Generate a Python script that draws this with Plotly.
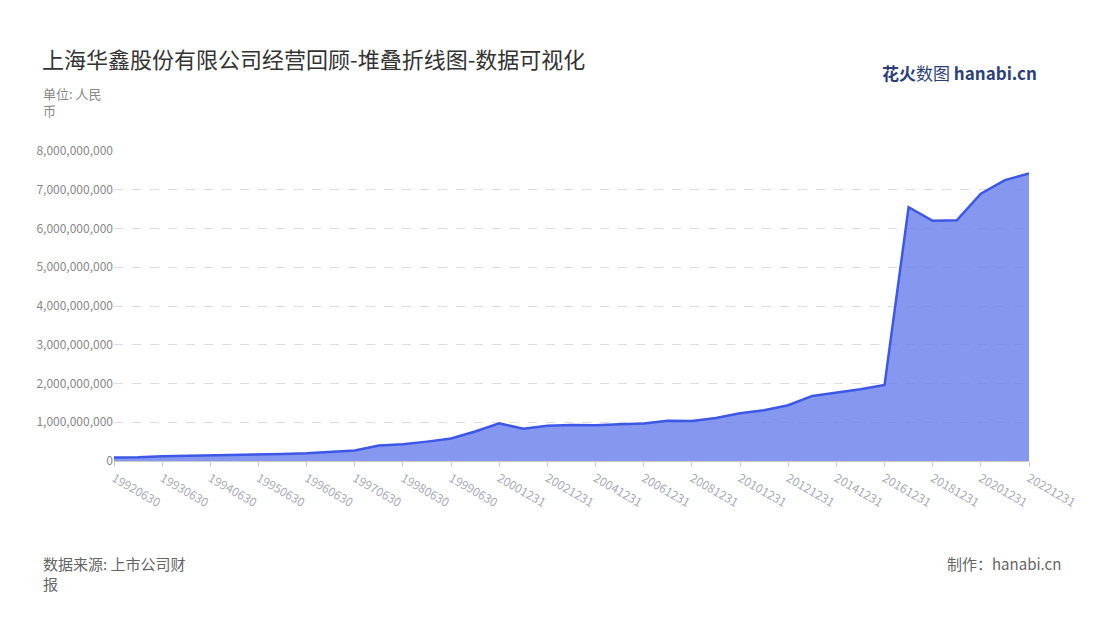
import plotly.graph_objects as go

# 报告期
periods = ["19920630", "19921231", "19930630", "19931231", "19940630", "19941231",
           "19950630", "19951231", "19960630", "19961231", "19970630", "19971231",
           "19980630", "19981231", "19990630", "19991231"] + \
          [str(y) + "1231" for y in range(2000, 2023)]

# 营业收入 (元)
revenue = [90e6, 95e6, 120e6, 130e6, 140e6, 150e6, 165e6, 180e6, 200e6, 240e6,
           270e6, 400e6, 430e6, 500e6, 580e6, 760e6, 970e6, 830e6, 910e6, 930e6,
           920e6, 950e6, 970e6, 1040e6, 1030e6, 1110e6, 1230e6, 1310e6, 1440e6,
           1680e6, 1760e6, 1850e6, 1960e6, 6550e6, 6200e6, 6210e6, 6900e6, 7250e6, 7420e6]

tick_labels = periods[::2]

font = "Noto Sans CJK SC"
fig = go.Figure()
fig.add_trace(go.Scatter(
    x=periods, y=revenue, mode="lines", fill="tozeroy",
    line=dict(color="#3d57e6", width=2.5),
    fillcolor="rgba(100,122,235,0.78)", hoverinfo="x+y", showlegend=False,
))

fig.update_layout(
    width=1100, height=620,
    paper_bgcolor="white", plot_bgcolor="white",
    margin=dict(l=106, r=79, t=143, b=167),
    font=dict(family=font, color="#888"),
    title=dict(text="上海华鑫股份有限公司经营回顾-堆叠折线图-数据可视化",
               x=0.031, y=0.915, xanchor="left", yanchor="middle",
               font=dict(size=22, color="#333", family=font)),
)
fig.update_xaxes(
    type="category", tickvals=tick_labels, ticktext=tick_labels, tickangle=30,
    range=[0, len(periods) - 1], showgrid=False,
    showline=True, linecolor="#ccc", ticks="outside", ticklen=5, tickcolor="#ccc",
    tickfont=dict(size=12, color="#aab"),
)
fig.update_yaxes(
    range=[0, 8e9], dtick=1e9, tickformat=",d", showgrid=True,
    gridcolor="#ddd", griddash="dash", zeroline=False,
    tickfont=dict(size=12, color="#888"),
)

ann = [
    dict(text="单位: 人民<br>币", x=-0.08, y=1.222, xanchor="left", yanchor="top", size=13, color="#888"),
    dict(text="数据来源: 上市公司财<br>报", x=-0.08, y=-0.29, xanchor="left", yanchor="top", size=15, color="#666"),
    dict(text="制作：hanabi.cn", x=1.037, y=-0.29, xanchor="right", yanchor="top", size=15, color="#666"),
    dict(text="<b>花火</b>数图 <b>hanabi.cn</b>", x=1.011, y=1.252, xanchor="right", yanchor="middle",
         size=17, color="#2c3f7a"),
]
for a in ann:
    fig.add_annotation(text=a["text"], xref="paper", yref="paper", x=a["x"], y=a["y"],
                       xanchor=a["xanchor"], yanchor=a["yanchor"], showarrow=False, align="left",
                       font=dict(size=a["size"], color=a["color"], family=font))

fig.write_html("out.html")
